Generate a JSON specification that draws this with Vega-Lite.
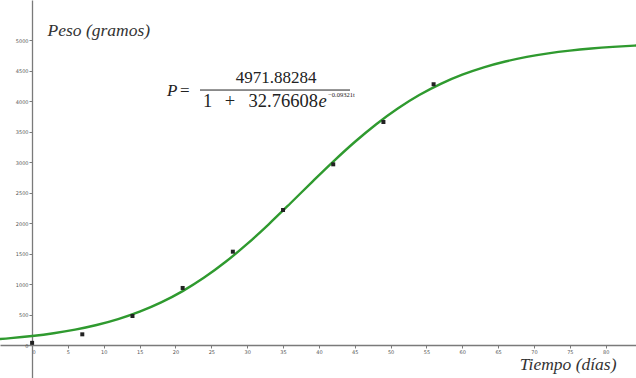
{
  "$schema": "https://vega.github.io/schema/vega-lite/v6.json",
  "width": 636,
  "height": 378,
  "autosize": "none",
  "padding": 0,
  "background": "white",
  "config": {
    "view": {"stroke": null},
    "axis": {
      "grid": false,
      "domainColor": "#7a7a7a",
      "domainWidth": 1.3,
      "tickColor": "#7a7a7a",
      "tickSize": 3,
      "tickWidth": 1,
      "labelFont": "DejaVu Sans",
      "labelFontSize": 5,
      "labelColor": "#555555",
      "labelOverlap": false,
      "labelFlush": false,
      "labelPadding": 1,
      "format": "d",
      "titleFont": "Liberation Serif",
      "titleFontStyle": "italic",
      "titleFontWeight": "normal",
      "titleFontSize": 17.5,
      "titleColor": "#333333"
    },
    "text": {"font": "Liberation Serif", "color": "#222222", "baseline": "alphabetic"}
  },
  "datasets": {
    "curve": [
      {"t": -6, "P": 85.3},
      {"t": -3, "P": 112.1},
      {"t": 0, "P": 147.2},
      {"t": 3, "P": 192.9},
      {"t": 6, "P": 252.0},
      {"t": 9, "P": 327.9},
      {"t": 12, "P": 424.7},
      {"t": 15, "P": 546.5},
      {"t": 18, "P": 698.2},
      {"t": 21, "P": 883.5},
      {"t": 24, "P": 1105.2},
      {"t": 27, "P": 1364.0},
      {"t": 30, "P": 1657.4},
      {"t": 33, "P": 1979.4},
      {"t": 36, "P": 2319.8},
      {"t": 39, "P": 2667.2},
      {"t": 42, "P": 3007.1},
      {"t": 45, "P": 3327.9},
      {"t": 48, "P": 3619.9},
      {"t": 51, "P": 3877.1},
      {"t": 54, "P": 4097.2},
      {"t": 57, "P": 4280.9},
      {"t": 60, "P": 4431.2},
      {"t": 63, "P": 4551.9},
      {"t": 66, "P": 4647.7},
      {"t": 69, "P": 4722.8},
      {"t": 72, "P": 4781.2},
      {"t": 75, "P": 4826.4},
      {"t": 78, "P": 4861.1},
      {"t": 81, "P": 4887.7},
      {"t": 84, "P": 4907.9},
      {"t": 87, "P": 4923.4}
    ],
    "obs": [
      {"t": 0, "P": 35},
      {"t": 7, "P": 175},
      {"t": 14, "P": 475},
      {"t": 21, "P": 935},
      {"t": 28, "P": 1530},
      {"t": 35, "P": 2213},
      {"t": 42, "P": 2962},
      {"t": 49, "P": 3656},
      {"t": 56, "P": 4275}
    ]
  },
  "encoding": {
    "x": {
      "type": "quantitative",
      "scale": {"domain": [-4.477, 84.23], "nice": false, "zero": false},
      "axis": {
        "orient": "bottom",
        "offset": -33,
        "values": [0, 5, 10, 15, 20, 25, 30, 35, 40, 45, 50, 55, 60, 65, 70, 75, 80],
        "labelAlign": {"condition": {"test": "datum.value == 0", "value": "left"}, "value": "center"},
        "title": "Tiempo (días)",
        "titleAlign": "right",
        "titleBaseline": "alphabetic",
        "titleAnchor": null,
        "titleX": 616,
        "titleY": 24
      }
    },
    "y": {
      "type": "quantitative",
      "scale": {"domain": [-541, 5656], "nice": false, "zero": false},
      "axis": {
        "orient": "left",
        "offset": -32,
        "values": [0, 500, 1000, 1500, 2000, 2500, 3000, 3500, 4000, 4500, 5000],
        "title": "Peso (gramos)",
        "titleAngle": 0,
        "titleAlign": "left",
        "titleBaseline": "alphabetic",
        "titleAnchor": null,
        "titleX": 15,
        "titleY": 35
      }
    }
  },
  "layer": [
    {
      "data": {"name": "curve"},
      "mark": {"type": "line", "color": "#2f9a2f", "strokeWidth": 2.4, "interpolate": "monotone", "clip": true},
      "encoding": {
        "x": {"field": "t", "type": "quantitative"},
        "y": {"field": "P", "type": "quantitative"}
      }
    },
    {
      "data": {"name": "obs"},
      "mark": {"type": "square", "size": 16, "color": "#222222", "opacity": 1, "filled": true},
      "encoding": {
        "x": {"field": "t", "type": "quantitative"},
        "y": {"field": "P", "type": "quantitative"}
      }
    },
    {
      "data": {"values": [{}]},
      "mark": {"type": "text", "fontStyle": "italic", "fontSize": 17, "align": "left"},
      "encoding": {"x": {"datum": 18.81}, "y": {"datum": 4082}, "text": {"value": "P"}}
    },
    {
      "data": {"values": [{}]},
      "mark": {"type": "text", "fontSize": 17, "align": "left"},
      "encoding": {"x": {"datum": 20.63}, "y": {"datum": 4082}, "text": {"value": "="}}
    },
    {
      "data": {"values": [{}]},
      "mark": {"type": "text", "fontSize": 17, "align": "center"},
      "encoding": {"x": {"datum": 34.02}, "y": {"datum": 4295}, "text": {"value": "4971.88284"}}
    },
    {
      "data": {"values": [{}]},
      "mark": {"type": "rule", "color": "#222222", "strokeWidth": 1},
      "encoding": {"x": {"datum": 23.42}, "x2": {"datum": 44.34}, "y": {"datum": 4180}}
    },
    {
      "data": {"values": [{}]},
      "mark": {"type": "text", "fontSize": 18.5, "align": "left"},
      "encoding": {"x": {"datum": 23.83}, "y": {"datum": 3902}, "text": {"value": "1"}}
    },
    {
      "data": {"values": [{}]},
      "mark": {"type": "text", "fontSize": 18.5, "align": "center"},
      "encoding": {"x": {"datum": 27.6}, "y": {"datum": 3902}, "text": {"value": "+"}}
    },
    {
      "data": {"values": [{}]},
      "mark": {"type": "text", "fontSize": 18.5, "align": "right"},
      "encoding": {"x": {"datum": 39.87}, "y": {"datum": 3902}, "text": {"value": "32.76608"}}
    },
    {
      "data": {"values": [{}]},
      "mark": {"type": "text", "fontStyle": "italic", "fontSize": 18.5, "align": "left"},
      "encoding": {"x": {"datum": 39.94}, "y": {"datum": 3902}, "text": {"value": "e"}}
    },
    {
      "data": {"values": [{}]},
      "mark": {"type": "text", "fontSize": 6.5, "align": "left"},
      "encoding": {"x": {"datum": 41.3}, "y": {"datum": 4066}, "text": {"value": "−0.09321t"}}
    }
  ]
}
